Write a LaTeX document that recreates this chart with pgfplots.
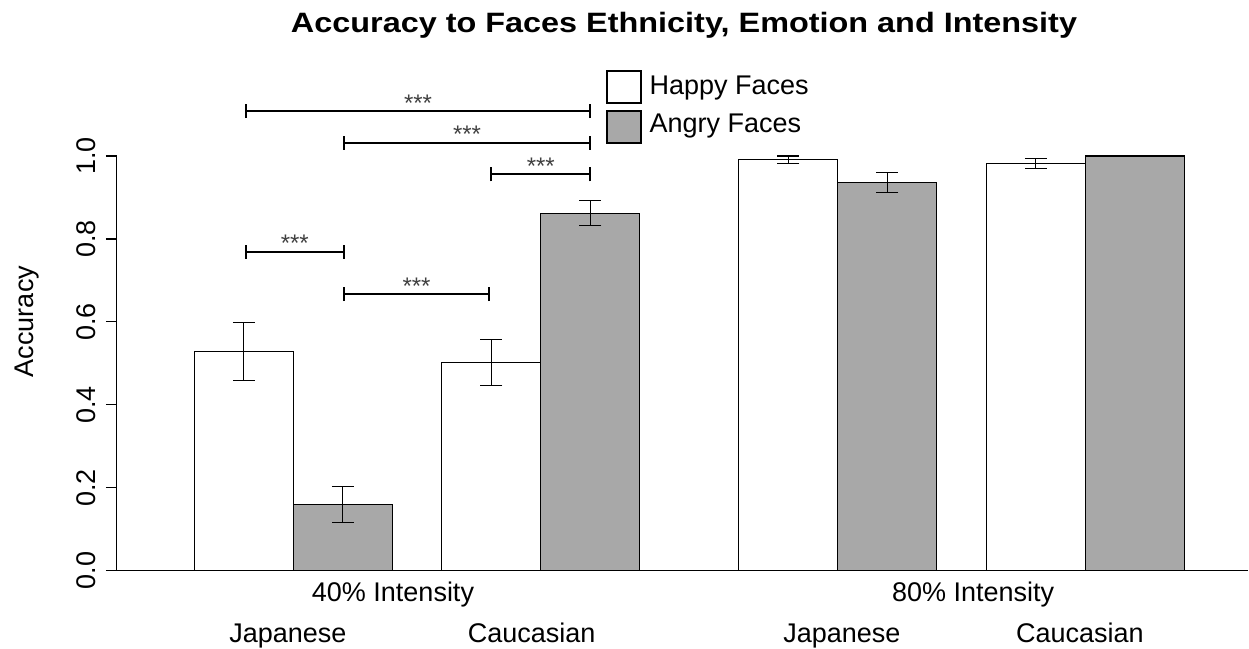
\documentclass[border=0pt]{standalone}
\usepackage{graphicx}
\usepackage{pgfplots}
\pgfplotsset{compat=1.18}
\usepackage{fontspec}
\setmainfont{Liberation Sans}
\definecolor{barg}{HTML}{A8A8A8}
\newcommand{\lbl}{\fontsize{27bp}{32bp}\selectfont}
\newcommand{\stars}{\fontsize{24bp}{28bp}\selectfont}
\newcommand{\sigbar}[4]{%
  \draw[line width=2bp, black] (axis cs:#1,#3) -- (axis cs:#2,#3);
  \draw[line width=2bp, black] ([yshift=-7bp]axis cs:#1,#3) -- ([yshift=7bp]axis cs:#1,#3);
  \draw[line width=2bp, black] ([yshift=-7bp]axis cs:#2,#3) -- ([yshift=7bp]axis cs:#2,#3);
  \node[anchor=base, inner sep=0pt, font=\stars, text=black!75] at (axis cs:#4,#3) {***};
}
\begin{document}
\begin{tikzpicture}
\begin{axis}[
  x=99bp, y=414.7bp,
  xmin=-0.784, xmax=10.64, ymin=0, ymax=1,
  axis x line=bottom, axis y line=left,
  axis line style={-, line width=1.2bp, black},
  every outer x axis line/.append style={-},
  every outer y axis line/.append style={-},
  clip=false,
  ytick={0,0.2,0.4,0.6,0.8,1.0},
  yticklabels={0.0,0.2,0.4,0.6,0.8,1.0},
  tick align=outside,
  major tick length=10.7bp,
  tick style={line width=1.2bp, black},
  yticklabel style={xshift=-10bp, rotate=90, anchor=south, inner sep=0pt, font=\lbl},
  xtick={0.946,3.407,6.542,8.946},
  xticklabels={Japanese,Caucasian,Japanese,Caucasian},
  xtick style={draw=none},
  xticklabel style={anchor=base, inner sep=0pt, font=\lbl, yshift=-60.6bp},
  extra x ticks={2.007,7.866},
  extra x tick labels={40\% Intensity,80\% Intensity},
  extra x tick style={xticklabel style={yshift=40.5bp}},
]
\addplot[ybar, bar width=1, bar shift=0pt, fill=white, draw=black, line width=1.2bp,
  error bars/.cd, y dir=both, y explicit,
  error bar style={line width=1.2bp, black},
  error mark options={rotate=90, line width=1.2bp, mark size=11bp, black}]
  table[x=x, y=y, y error=e] {
  x   y     e
  0.5 0.529 0.070
  3.0 0.502 0.055
  6.0 0.991 0.009
  8.5 0.982 0.012
};
\addplot[ybar, bar width=1, bar shift=0pt, fill=barg, draw=black, line width=1.2bp,
  error bars/.cd, y dir=both, y explicit,
  error bar style={line width=1.2bp, black},
  error mark options={rotate=90, line width=1.2bp, mark size=11bp, black}]
  table[x=x, y=y, y error=e] {
  x   y     e
  1.5 0.160 0.044
  4.0 0.862 0.030
  7.0 0.936 0.024
  9.5 1.000 0.000
};
% significance brackets
\sigbar{0.52}{4.0}{1.1085}{2.26}
\sigbar{1.51}{4.0}{1.0321}{2.755}
\sigbar{3.0}{4.0}{0.9559}{3.5}
\sigbar{0.52}{1.51}{0.7692}{1.015}
\sigbar{1.51}{2.98}{0.6672}{2.245}
% legend
\draw[line width=2bp, fill=white] (axis cs:4.1657,1.2050) rectangle (axis cs:4.5091,1.1271);
\draw[line width=2bp, fill=barg] (axis cs:4.1657,1.1085) rectangle (axis cs:4.5091,1.0306);
\node[anchor=base west, inner sep=0pt, font=\lbl] at (axis cs:4.598,1.1488) {Happy Faces};
\node[anchor=base west, inner sep=0pt, font=\lbl] at (axis cs:4.598,1.0562) {Angry Faces};
% title and y label
\node[anchor=base, inner sep=0pt, font=\fontsize{28bp}{34bp}\bfseries\selectfont] at (axis cs:4.9465,1.2983) {\scalebox{1.157}[1]{Accuracy to Faces Ethnicity, Emotion and Intensity}};
\node[rotate=90, anchor=base, inner sep=0pt, font=\lbl] at (axis cs:-1.6242,0.6009) {Accuracy};
% canvas extent
\path (axis cs:-1.9626,-0.1864) rectangle (axis cs:10.6535,1.37618);
\end{axis}
\end{tikzpicture}
\end{document}
